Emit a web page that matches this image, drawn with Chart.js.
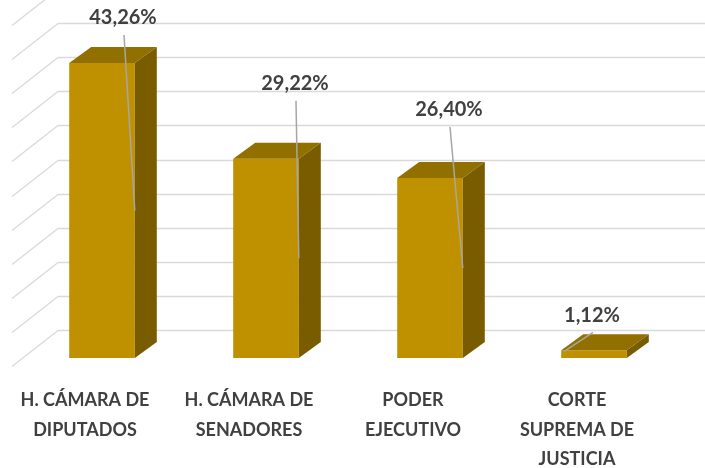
<!DOCTYPE html>
<html>
<head>
<meta charset="utf-8">
<script src="https://cdn.jsdelivr.net/npm/chart.js@4.4.1/dist/chart.umd.min.js"></script>
<style>
  html, body { margin: 0; padding: 0; background: #ffffff; }
  #wrap { width: 705px; height: 468px; }
</style>
</head>
<body>
<div id="wrap"><canvas id="chart" width="705" height="468"></canvas></div>
<script>
// datos
const categorias = [
    ['H. CÁMARA DE', 'DIPUTADOS'],
    ['H. CÁMARA DE', 'SENADORES'],
    ['PODER', 'EJECUTIVO'],
    ['CORTE', 'SUPREMA DE', 'JUSTICIA']
];
const porcentajes = [43.26, 29.22, 26.40, 1.12];
const etiquetas = ['43,26%', '29,22%', '26,40%', '1,12%'];

// ajuste manual de las etiquetas (px, respecto al centro y tope de la barra)
const desplazEtiqueta = [[21, -45], [29, -75], [19, -68], [-2, -35]];

const PROF_BARRA = { dx: 22, dy: -16 };
const PROF_PARED = { dx: 38, dy: -28 };
const PARED_X = 58;

// rejilla en perspectiva (pared del fondo y pared lateral)
const rejilla3d = {
    id: 'rejilla3d',
    beforeDatasetsDraw(chart) {
        const ctx = chart.ctx;
        const y = chart.scales.y;
        ctx.save();
        ctx.strokeStyle = '#d9d9d9';
        ctx.lineWidth = 1.3;
        y.ticks.forEach(t => {
            const yb = Math.round(y.getPixelForValue(t.value) + PROF_PARED.dy) + 0.5;
            ctx.beginPath();
            ctx.moveTo(PARED_X, yb);
            ctx.lineTo(chart.width, yb);
            ctx.stroke();
            ctx.beginPath();
            ctx.moveTo(PARED_X, yb);
            ctx.lineTo(12, yb + 36);
            ctx.stroke();
        });
        ctx.restore();
    }
};

// caras superior y lateral de cada columna, mas etiquetas con guia
const columnas3d = {
    id: 'columnas3d',
    afterDatasetsDraw(chart) {
        const ctx = chart.ctx;
        const meta = chart.getDatasetMeta(0);
        ctx.save();
        meta.data.forEach(bar => {
            const p = bar.getProps(['x', 'y', 'base', 'width'], true);
            const xl = p.x - p.width / 2, xr = p.x + p.width / 2;
            const dx = PROF_BARRA.dx, dy = PROF_BARRA.dy;
            // superior
            ctx.fillStyle = '#927000';
            ctx.beginPath();
            ctx.moveTo(xl, p.y);
            ctx.lineTo(xr, p.y);
            ctx.lineTo(xr + dx, p.y + dy);
            ctx.lineTo(xl + dx, p.y + dy);
            ctx.closePath();
            ctx.fill();
            // lateral
            ctx.fillStyle = '#7a5c00';
            ctx.beginPath();
            ctx.moveTo(xr, p.y);
            ctx.lineTo(xr + dx, p.y + dy);
            ctx.lineTo(xr + dx, p.base + dy);
            ctx.lineTo(xr, p.base);
            ctx.closePath();
            ctx.fill();
        });

        ctx.font = 'bold 20px Lato';
        ctx.textAlign = 'center';
        ctx.textBaseline = 'middle';
        meta.data.forEach((bar, i) => {
            const p = bar.getProps(['x', 'y', 'base', 'width'], true);
            const lx = p.x + desplazEtiqueta[i][0];
            const ly = p.y + desplazEtiqueta[i][1];
            let tx = p.x + p.width / 2, ty = (p.y + p.base) / 2;
            if (p.base - p.y < 20) { tx = p.x - p.width / 2 + 3; ty = p.y + 1; }
            ctx.strokeStyle = '#a6a6a6';
            ctx.lineWidth = 1.5;
            ctx.beginPath();
            ctx.moveTo(lx + 1, ly + 17);
            ctx.lineTo(tx, ty);
            ctx.stroke();
            ctx.fillStyle = '#404040';
            ctx.fillText(etiquetas[i], lx, ly);
        });
        ctx.restore();
    }
};

new Chart(document.getElementById('chart'), {
    type: 'bar',
    data: {
        labels: categorias,
        datasets: [{
            data: porcentajes,
            backgroundColor: '#bf9000',
            barPercentage: 1,
            categoryPercentage: 0.4
        }]
    },
    options: {
        responsive: false,
        animation: false,
        layout: { padding: { top: 17, left: 20, right: 29, bottom: 0 } },
        plugins: {
            legend: { display: false },
            tooltip: { enabled: false }
        },
        scales: {
            x: {
                grid: { display: false, drawTicks: false },
                border: { display: false },
                afterFit: (scale) => { scale.height = 110; },
                ticks: {
                    labelOffset: -17,
                    padding: 28,
                    color: '#404040',
                    font: { family: 'Lato', weight: 'bold', size: 18, lineHeight: 1.62 },
                    maxRotation: 0
                }
            },
            y: {
                display: false,
                min: 0,
                max: 50,
                ticks: { stepSize: 5 }
            }
        }
    },
    plugins: [rejilla3d, columnas3d]
});
</script>
</body>
</html>
